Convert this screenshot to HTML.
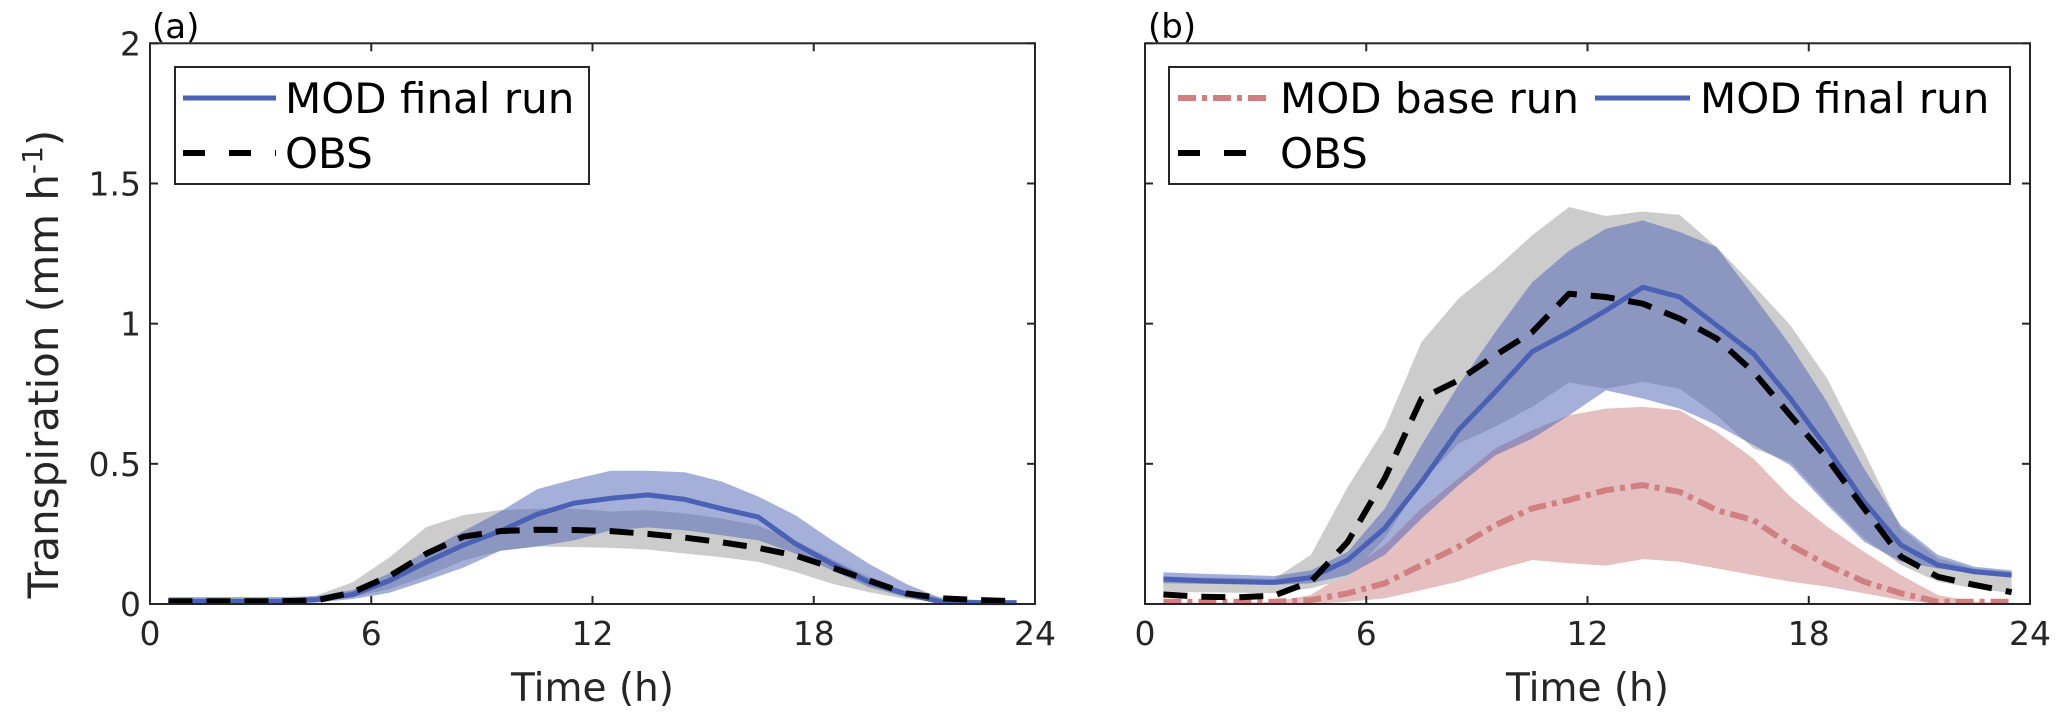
<!DOCTYPE html>
<html><head><meta charset="utf-8"><style>
body{margin:0;background:#fff}
svg{display:block;font-family:"DejaVu Sans","Liberation Sans",sans-serif}
</style></head><body>
<svg id="c" width="2067" height="717" viewBox="0 0 2067 717"></svg>
<script>
const hours=[0.5,1.5,2.5,3.5,4.5,5.5,6.5,7.5,8.5,9.5,10.5,11.5,12.5,13.5,14.5,15.5,16.5,17.5,18.5,19.5,20.5,21.5,22.5,23.5];
const xTicks=[0,6,12,18,24];
const yTicks=[0,0.5,1,1.5,2];
const yTickLabels=["0","0.5","1","1.5","2"];
// panel a
const aModFinal=[0.01,0.01,0.01,0.01,0.015,0.034,0.084,0.15,0.21,0.26,0.32,0.36,0.377,0.389,0.373,0.34,0.31,0.215,0.143,0.078,0.036,0.006,0.005,0.005];
const aModUpper=[0.025,0.025,0.025,0.025,0.028,0.05,0.11,0.19,0.26,0.33,0.41,0.445,0.475,0.475,0.47,0.437,0.383,0.317,0.227,0.143,0.072,0.018,0.01,0.01];
const aModLower=[0,0,0,0,0.005,0.018,0.04,0.084,0.13,0.19,0.205,0.227,0.263,0.273,0.263,0.245,0.227,0.18,0.12,0.06,0.024,0.002,0,0];
const aObs=[0.01,0.01,0.01,0.01,0.012,0.042,0.10,0.18,0.24,0.26,0.265,0.264,0.26,0.25,0.237,0.22,0.2,0.173,0.13,0.084,0.038,0.02,0.014,0.01];
const aObsUpper=[0.012,0.012,0.012,0.015,0.03,0.078,0.167,0.275,0.317,0.335,0.34,0.34,0.33,0.335,0.323,0.305,0.28,0.227,0.16,0.096,0.042,0.024,0.014,0.012];
const aObsLower=[0.005,0.005,0.005,0.005,0.012,0.024,0.054,0.1,0.155,0.19,0.205,0.203,0.2,0.194,0.18,0.167,0.15,0.114,0.072,0.042,0.018,0.006,0.005,0.005];
// panel b
const bModFinal=[0.089,0.083,0.08,0.077,0.094,0.157,0.27,0.436,0.62,0.757,0.9,0.97,1.047,1.13,1.095,0.994,0.893,0.733,0.555,0.365,0.21,0.139,0.115,0.103];
const bModUpper=[0.113,0.108,0.104,0.1,0.12,0.186,0.34,0.567,0.78,0.97,1.148,1.26,1.338,1.368,1.327,1.273,1.1,0.923,0.72,0.483,0.28,0.175,0.133,0.12];
const bModLower=[0.074,0.072,0.07,0.068,0.074,0.103,0.175,0.305,0.424,0.53,0.59,0.673,0.762,0.733,0.697,0.638,0.567,0.495,0.353,0.222,0.151,0.127,0.109,0.103];
const bObs=[0.034,0.026,0.024,0.03,0.08,0.222,0.448,0.733,0.798,0.887,0.97,1.107,1.095,1.071,1.018,0.947,0.828,0.673,0.519,0.341,0.169,0.097,0.068,0.042];
const bObsUpper=[0.098,0.095,0.093,0.09,0.175,0.418,0.626,0.935,1.089,1.196,1.315,1.416,1.384,1.4,1.388,1.273,1.137,0.994,0.804,0.543,0.27,0.163,0.127,0.115];
const bObsLower=[0.044,0.042,0.04,0.038,0.056,0.091,0.234,0.436,0.572,0.632,0.703,0.79,0.768,0.792,0.768,0.673,0.555,0.507,0.365,0.234,0.139,0.08,0.056,0.038];
const bBase=[0.008,0.008,0.008,0.008,0.014,0.038,0.074,0.139,0.204,0.281,0.341,0.371,0.406,0.424,0.4,0.335,0.299,0.21,0.139,0.08,0.038,0.008,0.008,0.008];
const bBaseUpper=[0.005,0.005,0.005,0.008,0.032,0.115,0.21,0.341,0.448,0.555,0.62,0.673,0.697,0.703,0.691,0.614,0.519,0.382,0.276,0.186,0.103,0.032,0.008,0.003];
const bBaseLower=[0,0,0,0,0,0.008,0.02,0.05,0.08,0.121,0.157,0.145,0.137,0.16,0.151,0.127,0.103,0.08,0.062,0.038,0.014,0,0,0];

const NS="http://www.w3.org/2000/svg";
const svg=document.getElementById('c');
function mk(tag,attrs,parent){const e=document.createElementNS(NS,tag);for(const k in attrs)e.setAttribute(k,attrs[k]);(parent||svg).appendChild(e);return e;}
const TOP=43.3,BOT=604;
function yS(v){return BOT-(v/2)*(BOT-TOP);}
function makeX(x0,x1){return h=>x0+(h/24)*(x1-x0);}
function band(g,xs,up,lo,fill,op,name){
  let d='';hours.forEach((h,i)=>{d+=(i?'L':'M')+xs(h).toFixed(1)+' '+yS(up[i]).toFixed(1);});
  for(let i=hours.length-1;i>=0;i--)d+='L'+xs(hours[i]).toFixed(1)+' '+yS(lo[i]).toFixed(1);
  const p=mk('path',{d:d+'Z',fill:fill,'fill-opacity':op,stroke:'none'},g);
  
  
}
function line(g,xs,vals,color,w,dash,name){
  const pts=hours.map((h,i)=>xs(h).toFixed(1)+','+yS(vals[i]).toFixed(1)).join(' ');
  const a={points:pts,fill:'none',stroke:color,'stroke-width':w,'stroke-linejoin':'round'};
  if(dash)a['stroke-dasharray']=dash;
  const p=mk('polyline',a,g);
  
  
}
function axes(g,x0,x1,xs,showY){
  xTicks.forEach(t=>{
    const x=xs(t);
    mk('line',{x1:x,y1:BOT,x2:x,y2:BOT-8,stroke:'#262626','stroke-width':2},g);
    mk('line',{x1:x,y1:TOP,x2:x,y2:TOP+8,stroke:'#262626','stroke-width':2},g);
    const tx=mk('text',{x:x,y:645,'font-size':33,'text-anchor':'middle',fill:'#262626'},g);
    tx.textContent=t;
    
    
  });
  yTicks.forEach((t,i)=>{
    const y=yS(t);
    mk('line',{x1:x0,y1:y,x2:x0+8,y2:y,stroke:'#262626','stroke-width':2},g);
    mk('line',{x1:x1,y1:y,x2:x1-8,y2:y,stroke:'#262626','stroke-width':2},g);
    if(showY){
      const tx=mk('text',{x:x0-9,y:y+12,'font-size':33,'text-anchor':'end',fill:'#262626'},g);
      tx.textContent=yTickLabels[i];
      
      
    }
  });
  mk('rect',{x:x0,y:TOP,width:x1-x0,height:BOT-TOP,fill:'none',stroke:'#262626','stroke-width':2},g);
  const xt=mk('text',{x:(x0+x1)/2,y:701,'font-size':39,'text-anchor':'middle',fill:'#262626'},g);
  xt.textContent='Time (h)';
  
  
}
// panel a
const ga=mk('g',{});
const xa=makeX(150,1035);
band(ga,xa,aObsUpper,aObsLower,'#cccccc',1,'obs-range-band');
band(ga,xa,aModUpper,aModLower,'#4a61b5',0.5,'mod-final-range-band');
line(ga,xa,aModFinal,'#4a61b5',5,null,'mod-final-line');
line(ga,xa,aObs,'#000',6,'24 14','obs-line');
axes(ga,150,1035,xa,true);
// panel b
const gb=mk('g',{});
const xb=makeX(1145,2030);
band(gb,xb,bBaseUpper,bBaseLower,'#e6bfc0',1,'mod-base-range-band');
band(gb,xb,bObsUpper,bObsLower,'#cccccc',1,'obs-range-band');
band(gb,xb,bModUpper,bModLower,'#4a61b5',0.5,'mod-final-range-band');
line(gb,xb,bBase,'#d08080',6,'18 6 5 6','mod-base-line');
line(gb,xb,bModFinal,'#4a61b5',5,null,'mod-final-line');
line(gb,xb,bObs,'#000',6,'24 14','obs-line');
axes(gb,1145,2030,xb,false);
</script>
<svg style="position:absolute;left:0;top:0" width="2067" height="717">
  <text x="152" y="38" font-size="34" fill="#000" font-family="DejaVu Sans,sans-serif">(a)</text>
  <text x="1148" y="38" font-size="34" fill="#000" font-family="DejaVu Sans,sans-serif">(b)</text>
  <text transform="translate(58,364) rotate(-90)" font-size="42" text-anchor="middle" fill="#262626" font-family="DejaVu Sans,sans-serif">Transpiration (mm h<tspan dy="-16" font-size="28">-1</tspan><tspan dy="16">)</tspan></text>
  <g>
    <rect x="175" y="67" width="414" height="117" fill="#fff" stroke="#262626" stroke-width="2"/>
    <line x1="183" y1="98" x2="276" y2="98" stroke="#4a61b5" stroke-width="5"/>
    <text x="285" y="113" font-size="42" font-family="DejaVu Sans,sans-serif">MOD final run</text>
    <line x1="183" y1="153" x2="276" y2="153" stroke="#000" stroke-width="6" stroke-dasharray="22 24"/>
    <text x="285" y="168" font-size="42" font-family="DejaVu Sans,sans-serif">OBS</text>
  </g>
  <g>
    <rect x="1169" y="67" width="841" height="117" fill="#fff" stroke="#262626" stroke-width="2"/>
    <line x1="1178" y1="98" x2="1267" y2="98" stroke="#d08080" stroke-width="6" stroke-dasharray="18 6 5 6"/>
    <text x="1280" y="113" font-size="42" font-family="DejaVu Sans,sans-serif">MOD base run</text>
    <line x1="1595" y1="98" x2="1690" y2="98" stroke="#4a61b5" stroke-width="5"/>
    <text x="1700" y="113" font-size="42" font-family="DejaVu Sans,sans-serif">MOD final run</text>
    <line x1="1178" y1="153" x2="1267" y2="153" stroke="#000" stroke-width="6" stroke-dasharray="22 24"/>
    <text x="1280" y="168" font-size="42" font-family="DejaVu Sans,sans-serif">OBS</text>
  </g>
</svg>
</body></html>
